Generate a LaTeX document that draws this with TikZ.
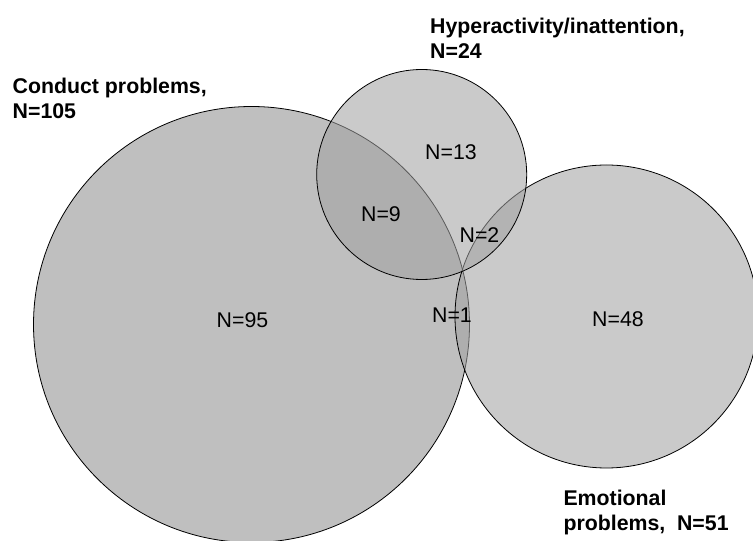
\documentclass[tikz,border=0pt]{standalone}
\usepackage{fontspec}
\setmainfont{Liberation Sans}
\usepackage{xcolor}
\usepackage{tikz}

\definecolor{bigfill}{gray}{0.75}
\definecolor{smallfill}{gray}{0.63}
\tikzset{
  setcirc/.style={draw=black,line width=0.8pt},
  count/.style={anchor=base,inner sep=0pt,font=\fontsize{21.3}{25}\selectfont},
  settitle/.style={anchor=north west,inner sep=0pt,align=left,font=\fontsize{21.3}{25}\selectfont\bfseries}
}

\begin{document}
\begin{tikzpicture}[x=1pt,y=1pt]
\clip (0,0) rectangle (753,541);
\useasboundingbox (0,0) rectangle (753,541);
\draw[setcirc,fill=bigfill] (251.5,216.5) circle (218);
\draw[setcirc,fill=smallfill,fill opacity=0.56] (606.5,224.5) circle (151.5);
\draw[setcirc,fill=smallfill,fill opacity=0.56] (421.7,366.5) circle (105);
\node[settitle] (conduct) at (12.5,463.5) {Conduct problems,\\N=105};
\node[settitle] (hyper) at (430,523) {Hyperactivity/inattention,\\N=24};
\node[settitle] (emo) at (563.3,51.3) {Emotional\\problems,~ N=51};
\node[count] (c95) at (242.5,213.3) {N=95};
\node[count] (c13) at (451,381) {N=13};
\node[count] (c9) at (381,319.3) {N=9};
\node[count] (c2) at (479.5,298) {N=2};
\node[count] (c1) at (452,218.3) {N=1};
\node[count] (c48) at (618,214.3) {N=48};
\end{tikzpicture}
\end{document}
